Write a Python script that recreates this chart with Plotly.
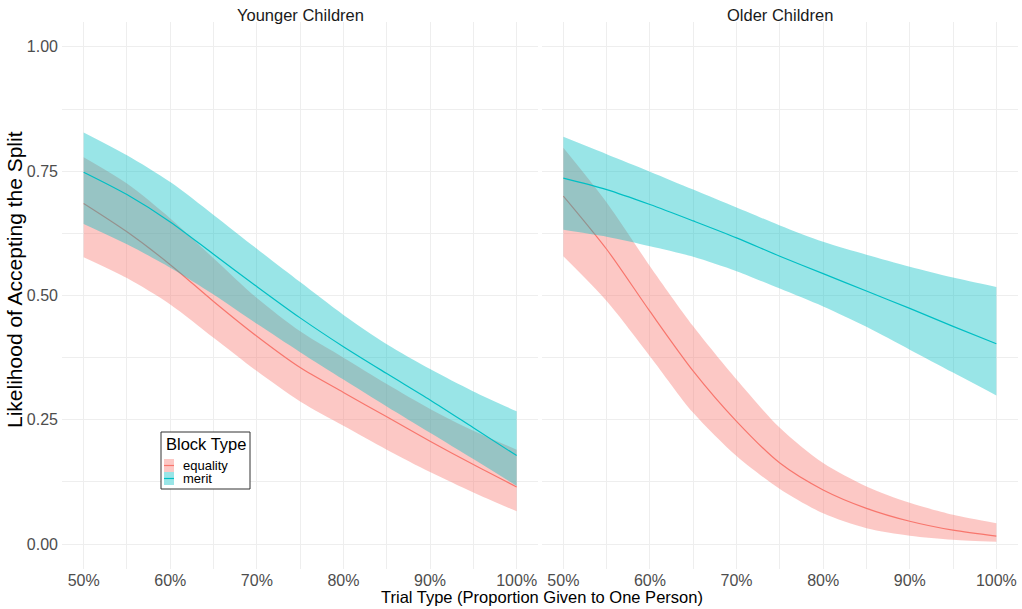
import plotly.graph_objects as go

# ---------------- data ----------------
trial = [0.50, 0.55, 0.60, 0.65, 0.70, 0.75, 0.80, 0.85, 0.90, 0.95, 1.00]
x_tick_vals = [0.5, 0.6, 0.7, 0.8, 0.9, 1.0]
x_tick_text = ["50%", "60%", "70%", "80%", "90%", "100%"]
y_tick_vals = [0.0, 0.25, 0.5, 0.75, 1.0]
y_tick_text = ["0.00", "0.25", "0.50", "0.75", "1.00"]
panels = ["Younger Children", "Older Children"]
groups = ["equality", "merit"]

# Younger children
young_eq_fit = [0.685, 0.628, 0.562, 0.488, 0.418, 0.355, 0.305, 0.256, 0.207, 0.160, 0.115]
young_eq_hi = [0.778, 0.725, 0.655, 0.575, 0.495, 0.428, 0.375, 0.322, 0.272, 0.228, 0.190]
young_eq_lo = [0.577, 0.535, 0.482, 0.415, 0.348, 0.287, 0.238, 0.190, 0.145, 0.104, 0.066]
young_mer_fit = [0.748, 0.703, 0.648, 0.583, 0.518, 0.455, 0.397, 0.343, 0.290, 0.234, 0.178]
young_mer_hi = [0.828, 0.782, 0.728, 0.662, 0.594, 0.527, 0.461, 0.402, 0.352, 0.307, 0.267]
young_mer_lo = [0.644, 0.603, 0.556, 0.502, 0.443, 0.386, 0.331, 0.277, 0.224, 0.171, 0.117]

# Older children
old_eq_fit = [0.700, 0.593, 0.468, 0.348, 0.247, 0.163, 0.109, 0.072, 0.046, 0.028, 0.016]
old_eq_hi = [0.797, 0.687, 0.559, 0.438, 0.331, 0.234, 0.163, 0.116, 0.083, 0.059, 0.042]
old_eq_lo = [0.579, 0.489, 0.378, 0.264, 0.177, 0.111, 0.062, 0.032, 0.017, 0.009, 0.005]
old_mer_fit = [0.736, 0.713, 0.683, 0.650, 0.616, 0.579, 0.544, 0.509, 0.474, 0.438, 0.403]
old_mer_hi = [0.819, 0.784, 0.749, 0.713, 0.677, 0.641, 0.608, 0.582, 0.558, 0.536, 0.517]
old_mer_lo = [0.632, 0.618, 0.599, 0.578, 0.549, 0.514, 0.478, 0.437, 0.391, 0.345, 0.299]

# ---------------- styling ----------------
W, H = 1022, 609
ML, MR, MT, MB = 62, 4, 22, 40
PW, PH = W - ML - MR, H - MT - MB
FONT = "Liberation Sans, Arial, sans-serif"
line_col = {"equality": "#F8766D", "merit": "#00BFC4"}
fill_col = {"equality": "rgba(248,118,109,0.4)", "merit": "rgba(0,191,196,0.4)"}
GRID = "#EEEEEE"
TICK_COL = "#4D4D4D"
SMOOTH = 0.8

fig = go.Figure()

panel_data = [
    ("x", "y", {"equality": (young_eq_fit, young_eq_lo, young_eq_hi),
                "merit": (young_mer_fit, young_mer_lo, young_mer_hi)}),
    ("x2", "y2", {"equality": (old_eq_fit, old_eq_lo, old_eq_hi),
                  "merit": (old_mer_fit, old_mer_lo, old_mer_hi)}),
]

for xa, ya, d in panel_data:
    for g in groups:
        fit, lo, hi = d[g]
        fig.add_trace(go.Scatter(x=trial, y=hi, mode="lines", line=dict(width=0, shape="spline", smoothing=SMOOTH),
                                 xaxis=xa, yaxis=ya, showlegend=False, hoverinfo="skip"))
        fig.add_trace(go.Scatter(x=trial, y=lo, mode="lines", line=dict(width=0, shape="spline", smoothing=SMOOTH),
                                 fill="tonexty", fillcolor=fill_col[g],
                                 xaxis=xa, yaxis=ya, showlegend=False, hoverinfo="skip"))
        fig.add_trace(go.Scatter(x=trial, y=fit, mode="lines", name=g,
                                 line=dict(color=line_col[g], width=1.2, shape="spline", smoothing=SMOOTH),
                                 xaxis=xa, yaxis=ya, showlegend=False))

def px2x(px):
    return (px - ML) / PW

def px2y(py):
    return (H - MB - py) / PH

left_dom = [0, px2x(538.3)]
right_dom = [px2x(541.7), 1]

xcommon = dict(range=[0.475, 1.025], tickmode="array", tickvals=x_tick_vals, ticktext=x_tick_text,
               showgrid=True, gridcolor=GRID, gridwidth=1, zeroline=False, showline=False,
               tickfont=dict(family=FONT, size=16, color=TICK_COL), ticks="",
               minor=dict(tickvals=[0.55, 0.65, 0.75, 0.85, 0.95], showgrid=True, gridcolor=GRID, gridwidth=0.6),
               fixedrange=True)
ycommon = dict(range=[-0.05, 1.05], tickmode="array", tickvals=y_tick_vals, ticktext=y_tick_text,
               showgrid=True, gridcolor=GRID, gridwidth=1, zeroline=False, showline=False,
               tickfont=dict(family=FONT, size=16, color=TICK_COL), ticks="",
               minor=dict(tickvals=[0.125, 0.375, 0.625, 0.875], showgrid=True, gridcolor=GRID, gridwidth=0.6),
               fixedrange=True, domain=[0, 1])

fig.update_layout(
    width=W, height=H,
    margin=dict(l=ML, r=MR, t=MT, b=MB),
    paper_bgcolor="white", plot_bgcolor="white",
    font=dict(family=FONT, color="#1A1A1A"),
    showlegend=False,
    xaxis=dict(domain=left_dom, anchor="y", **xcommon),
    xaxis2=dict(domain=right_dom, anchor="y2", **xcommon),
    yaxis=dict(anchor="x", ticklabelstandoff=3, **ycommon),
    yaxis2=dict(anchor="x2", showticklabels=False, **ycommon),
)

annotations = []
# facet strip titles
for name, dom in zip(panels, [left_dom, right_dom]):
    annotations.append(dict(text=name, x=(dom[0] + dom[1]) / 2, y=px2y(15), xref="paper", yref="paper",
                            showarrow=False, xanchor="center", yanchor="middle",
                            font=dict(family=FONT, size=16.5, color="#1A1A1A")))
# axis titles
annotations.append(dict(text="Trial Type (Proportion Given to One Person)", x=px2x(542), y=px2y(597),
                        xref="paper", yref="paper", showarrow=False, xanchor="center", yanchor="middle",
                        font=dict(family=FONT, size=16.5, color="black")))
annotations.append(dict(text="Likelihood of Accepting the Split", x=px2x(14), y=px2y(280),
                        xref="paper", yref="paper", showarrow=False, xanchor="center", yanchor="middle",
                        textangle=-90, font=dict(family=FONT, size=21, color="black")))

# manual legend inside the left panel
shapes = []
shapes.append(dict(type="rect", xref="paper", yref="paper", x0=px2x(161), x1=px2x(250), y0=px2y(489), y1=px2y(432),
                   line=dict(color="#333333", width=1), fillcolor="white", layer="above"))
annotations.append(dict(text="Block Type", x=px2x(164), y=px2y(444), xref="paper", yref="paper",
                        showarrow=False, xanchor="left", yanchor="middle",
                        font=dict(family=FONT, size=16.5, color="black")))
key_rows = [(465.5, "equality"), (478.5, "merit")]
for cy, g in key_rows:
    shapes.append(dict(type="rect", xref="paper", yref="paper", x0=px2x(164), x1=px2x(174),
                       y0=px2y(cy + 6.5), y1=px2y(cy - 6.5), line=dict(width=0), fillcolor=fill_col[g], layer="above"))
    shapes.append(dict(type="line", xref="paper", yref="paper", x0=px2x(164), x1=px2x(174),
                       y0=px2y(cy), y1=px2y(cy), line=dict(color=line_col[g], width=1.2), layer="above"))
    annotations.append(dict(text=g, x=px2x(181), y=px2y(cy), xref="paper", yref="paper",
                            showarrow=False, xanchor="left", yanchor="middle",
                            font=dict(family=FONT, size=13, color="black")))

fig.update_layout(annotations=annotations, shapes=shapes)
fig.write_html("out.html", config={"displayModeBar": False},
               post_script="document.body.style.margin='0px';document.body.style.padding='0px';")
